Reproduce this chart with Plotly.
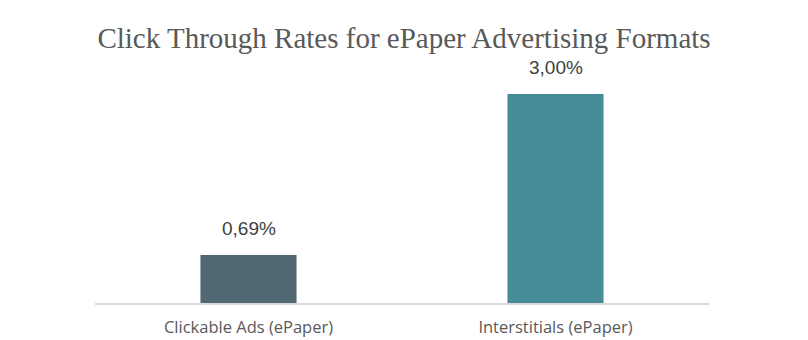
import plotly.graph_objects as go

categories = ["Clickable Ads (ePaper)", "Interstitials (ePaper)"]
ctr_values = [0.69, 3.00]
bar_colors = ["#506872", "#478a98"]

labels = [f"{v:.2f}%".replace(".", ",") for v in ctr_values]

fig = go.Figure(
    go.Bar(
        x=categories,
        y=ctr_values,
        marker=dict(color=bar_colors, line=dict(width=0)),
        hoverinfo="skip",
    )
)

for cat, val, lab in zip(categories, ctr_values, labels):
    fig.add_annotation(
        x=cat, y=val, text=lab, showarrow=False,
        yanchor="bottom", yshift=14,
        font=dict(family="Liberation Sans, Arial", size=19, color="#404040"),
    )

fig.update_layout(
    width=808, height=340,
    margin=dict(l=95, r=99, t=60, b=37),
    paper_bgcolor="white", plot_bgcolor="white",
    bargap=0.687,
    showlegend=False,
    title=dict(
        text="Click Through Rates for ePaper Advertising Formats",
        x=0.5, xanchor="center", y=0.89, yanchor="middle",
        font=dict(family="Liberation Serif, Times New Roman", size=29, color="#595959"),
    ),
    xaxis=dict(
        showline=True, linecolor="#d9d9d9", linewidth=1.5,
        ticks="", showgrid=False, ticklabelstandoff=8, automargin=False,
        tickfont=dict(family="Open Sans, Segoe UI", size=16.5, color="#595959"),
    ),
    yaxis=dict(
        range=[0, 3.488], visible=False, showgrid=False, zeroline=False,
        automargin=False,
    ),
)

fig.write_html("out.html")
